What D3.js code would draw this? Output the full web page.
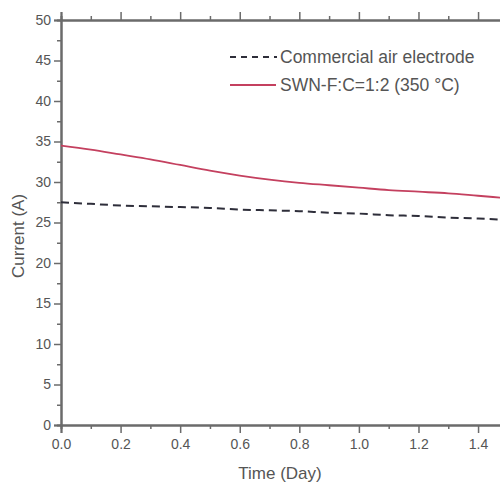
<!DOCTYPE html>
<html>
<head>
<meta charset="utf-8">
<script src="https://cdn.jsdelivr.net/npm/d3@7"></script>
<style>
  body { margin: 0; background: #fff; }
  svg { display: block; font-family: "Liberation Sans", Arial, sans-serif; }
</style>
</head>
<body>
<svg id="chart" width="500" height="487"></svg>
<script>
// time in days
var days = [0.0, 0.1, 0.2, 0.3, 0.4, 0.5, 0.6, 0.7, 0.8, 0.9, 1.0, 1.1, 1.2, 1.3, 1.4, 1.5];
// SWN-F:C=1:2 (350 °C)
var swnCurrent = [34.5, 34.0, 33.4, 32.8, 32.1, 31.4, 30.8, 30.3, 29.9, 29.6, 29.3, 29.0, 28.8, 28.6, 28.3, 28.0];
// commercial air electrode
var commercialCurrent = [27.5, 27.3, 27.1, 27.0, 26.9, 26.8, 26.6, 26.5, 26.4, 26.2, 26.1, 25.9, 25.8, 25.6, 25.5, 25.3];
var xTicks = [0.0, 0.2, 0.4, 0.6, 0.8, 1.0, 1.2, 1.4];
var yTicks = [0, 5, 10, 15, 20, 25, 30, 35, 40, 45, 50];
var legendLabels = ["Commercial air electrode", "SWN-F:C=1:2 (350 \u00B0C)"];

var svg = d3.select("#chart");
var axisColor = "#6b6b6b";
var textColor = "#555";
var redColor = "#c4405f";
var dashColor = "#2e2e3a";

var x = d3.scaleLinear().domain([0, 1.6]).range([61, 61 + 1.6 * 297.9]);
var y = d3.scaleLinear().domain([0, 50]).range([425, 20]);

var minorX = d3.range(0.1, 1.6, 0.2);
var minorY = d3.range(2.5, 50, 5);

// bottom axis
var bottomAxis = svg.append("g").attr("transform", "translate(0,425)");
bottomAxis.call(d3.axisBottom(x).tickValues(xTicks).tickFormat(d3.format(".1f")).tickSize(8).tickPadding(6));
bottomAxis.append("g").call(d3.axisBottom(x).tickValues(minorX).tickSize(4).tickFormat(""));

// top axis
var topAxis = svg.append("g").attr("transform", "translate(0,20)");
topAxis.call(d3.axisTop(x).tickValues(xTicks).tickSize(8).tickFormat(""));
topAxis.append("g").call(d3.axisTop(x).tickValues(minorX).tickSize(4).tickFormat(""));

// left axis
var leftAxis = svg.append("g").attr("transform", "translate(61,0)");
leftAxis.call(d3.axisLeft(y).tickValues(yTicks).tickSize(7).tickPadding(3));
leftAxis.append("g").call(d3.axisLeft(y).tickValues(minorY).tickSize(4).tickFormat(""));

svg.selectAll(".domain").attr("stroke", axisColor).attr("stroke-width", 2);
svg.selectAll(".tick line").attr("stroke", axisColor).attr("stroke-width", 1.5);
svg.selectAll(".tick text")
  .attr("fill", textColor)
  .style("font-size", "14px")
  .style("font-family", "'Liberation Sans', Arial, sans-serif");

// lines
var line = d3.line()
  .x(function (d, i) { return x(days[i]); })
  .y(function (d) { return y(d); })
  .curve(d3.curveMonotoneX);

svg.append("path")
  .datum(commercialCurrent)
  .attr("d", line)
  .attr("fill", "none")
  .attr("stroke", dashColor)
  .attr("stroke-width", 2)
  .attr("stroke-dasharray", "8,5");

svg.append("path")
  .datum(swnCurrent)
  .attr("d", line)
  .attr("fill", "none")
  .attr("stroke", redColor)
  .attr("stroke-width", 1.8);

// legend
var legend = svg.append("g");
var legendY = [57, 85];
legend.append("line")
  .attr("x1", 230).attr("x2", 277).attr("y1", legendY[0]).attr("y2", legendY[0])
  .attr("stroke", dashColor).attr("stroke-width", 2).attr("stroke-dasharray", "6,5");
legend.append("line")
  .attr("x1", 230).attr("x2", 276).attr("y1", legendY[1]).attr("y2", legendY[1])
  .attr("stroke", redColor).attr("stroke-width", 1.8);
legend.selectAll("text.leg")
  .data(legendLabels)
  .enter()
  .append("text")
  .attr("class", "leg")
  .attr("x", 280)
  .attr("y", function (d, i) { return legendY[i]; })
  .attr("dy", "0.35em")
  .attr("fill", textColor)
  .style("font-size", "17.5px")
  .text(function (d) { return d; });

// axis titles
svg.append("text")
  .attr("x", 280)
  .attr("y", 479)
  .attr("text-anchor", "middle")
  .attr("fill", textColor)
  .style("font-size", "17px")
  .text("Time (Day)");

svg.append("text")
  .attr("transform", "translate(24,236) rotate(-90)")
  .attr("text-anchor", "middle")
  .attr("fill", textColor)
  .style("font-size", "17px")
  .text("Current (A)");
</script>
</body>
</html>
